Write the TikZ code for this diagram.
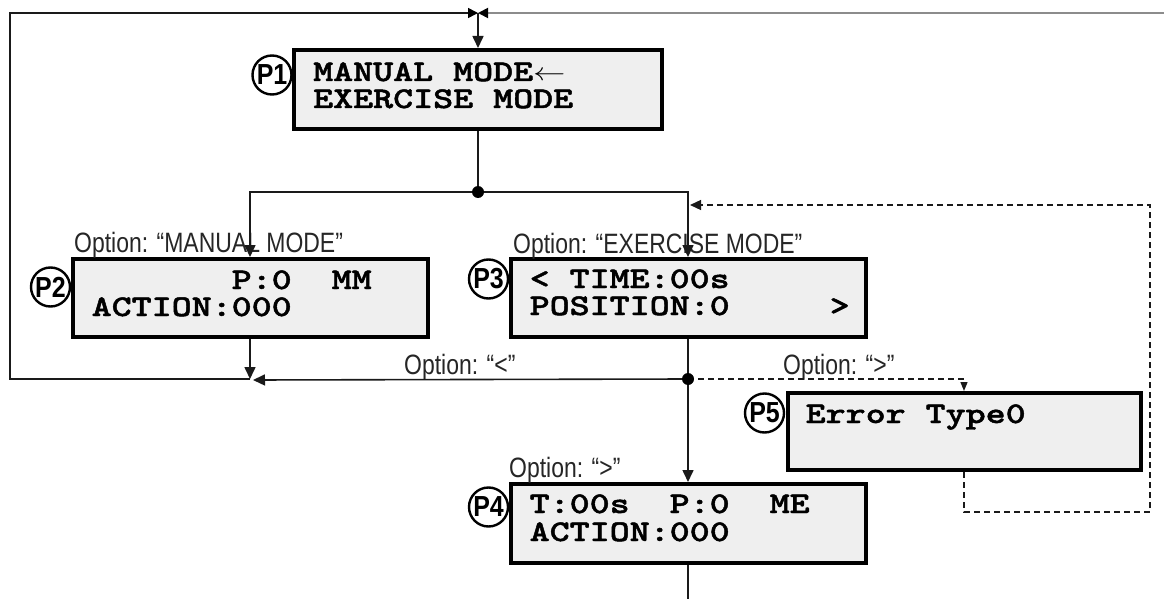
\documentclass[tikz,border=0pt]{standalone}
\usepackage{graphicx}
\usepackage{fontspec}
\setmainfont{Liberation Sans}
\newfontfamily\narrow{Liberation Sans}[FakeStretch=0.82]
\newfontfamily\tagfont{Liberation Sans}[FakeStretch=0.86]
% wide, heavy slab-serif display characters
\newfontfamily\lcd{lmmonolt10-bold.otf}[FakeStretch=1.27, FakeBold=1.5]
\usetikzlibrary{arrows.meta,calc}

\definecolor{screenfill}{HTML}{EFEFEF}
\definecolor{wirecol}{HTML}{1A1A1A}
\definecolor{feedcol}{HTML}{8C8C8C}

\newcommand{\cursorarrow}{\scalebox{1.3}[1]{\(\leftarrow\)}}

\tikzset{
  screen/.style={draw=black, line width=4pt, fill=screenfill, inner sep=0pt},
  tag/.style={circle, draw=black, line width=2.4pt, fill=white, minimum size=39pt,
    inner sep=0pt, font=\tagfont\bfseries\fontsize{29}{29}\selectfont},
  lcdline/.style={anchor=base west, inner sep=0pt, text height=19pt, text depth=3pt,
    font=\lcd\fontsize{30}{30}\selectfont},
  opt/.style={anchor=base west, inner sep=0pt, font=\narrow\fontsize{28}{28}\selectfont, text=black!85},
  wire/.style={draw=wirecol, line width=1.6pt},
  arr/.style={-{Triangle[length=12pt,width=11pt]}},
  tiptop/.style={-{Triangle[length=10pt,width=10pt,color=black]}},
  dwire/.style={draw=wirecol, line width=1.3pt, dash pattern=on 6pt off 4pt},
  junction/.style={circle, fill=black, minimum size=12pt, inner sep=0pt},
}

\begin{document}
\begin{tikzpicture}[x=1pt,y=-1pt]
\fill[white] (0,0) rectangle (1164,599);
\useasboundingbox (0,0) rectangle (1164,599);

% screens
\node[screen, minimum width=368pt, minimum height=79pt] (p1) at (478,89.5) {};
\node[screen, minimum width=355pt, minimum height=78pt] (p2) at (250,298) {};
\node[screen, minimum width=355pt, minimum height=78pt] (p3) at (688,298) {};
\node[screen, minimum width=355pt, minimum height=79pt] (p4) at (688,523.5) {};
\node[screen, minimum width=353pt, minimum height=77pt] (p5) at (964,431.5) {};

% screen contents
\node[lcdline] (p1a) at ($(p1.north west)+(21,33)$) {MANUAL~MODE\cursorarrow};
\node[lcdline] (p1b) at ($(p1.north west)+(21,60)$) {EXERCISE~MODE};
\node[lcdline] (p2a) at ($(p2.north west)+(21,32)$) {~~~~~~~P:0~~MM};
\node[lcdline] (p2b) at ($(p2.north west)+(21,59)$) {ACTION:000};
\node[lcdline] (p3a) at ($(p3.north west)+(21,31)$) {<~TIME:00s};
\node[lcdline] (p3b) at ($(p3.north west)+(21,58)$) {POSITION:0~~~~~>};
\node[lcdline] (p4a) at ($(p4.north west)+(21,31)$) {T:00s~~P:0~~ME};
\node[lcdline] (p4b) at ($(p4.north west)+(21,59)$) {ACTION:000};
\node[lcdline] (p5a) at ($(p5.north west)+(20,32)$) {Error~Type0};

% page tags
\node[tag] (t1) at ($(p1.north west)+(-20,27)$) {P1};
\node[tag] (t2) at ($(p2.north west)+(-20,30)$) {P2};
\node[tag] (t3) at ($(p3.north west)+(-20,22)$) {P3};
\node[tag] (t4) at ($(p4.north west)+(-20,25)$) {P4};
\node[tag] (t5) at ($(p5.north west)+(-21,22)$) {P5};

% option labels
\node[opt] (o2) at (74,252) {Option: “MANUAL MODE”};
\node[opt] (o3) at (513,253) {Option: “EXERCISE MODE”};
\node[opt] (olt) at (404,374) {Option: “<”};
\node[opt] (ogt) at (783,374) {Option: “>”};
\node[opt] (o4) at (509,477) {Option: “>”};

% routing points
\coordinate (bow) at (478,13);
\coordinate (tl) at (10,13);
\coordinate (bl) at (10,379);
\coordinate (tr) at (1164,13);
\coordinate (j2) at (250,379);
\coordinate (lt) at (253,380);
\coordinate (d1) at (478,192);
\coordinate (d2) at (688,379);
\coordinate (r1) at (1150,512);
\coordinate (r2) at (1150,205);
\coordinate (m3) at (690,205);
\coordinate (bot) at (688,599);

% return loop and main entry
\draw[wire, tiptop] (j2) -- (bl) -- (tl) -- (bow);
\draw[draw=feedcol, line width=1.8pt, tiptop] (tr) -- (bow);
\draw[wire, arr] (bow) -- (p1.north);

% branch from the mode menu
\draw[wire] (p1.south) -- (d1);
\draw[wire, arr] (d1) -| (p2.north);
\draw[wire, arr] (d1) -| (p3.north);

% exits of the two modes
\draw[wire, arr] (p2.south) -- (j2);
\draw[wire] (p3.south) -- (d2);
\draw[wire, arr] (d2) -- (lt);
\draw[wire, arr] (d2) -- (p4.north);
\draw[dwire, -{Triangle[length=9pt,width=7pt]}] (d2) -| (p5.north);
\draw[dwire, -{Triangle[length=11pt,width=10pt]}] (p5.south) |- (r1) -- (r2) -- (m3);
\draw[wire] (p4.south) -- (bot);

% junction dots
\node[junction] (d1dot) at (d1) {};
\node[junction] (d2dot) at (d2) {};
\end{tikzpicture}
\end{document}
